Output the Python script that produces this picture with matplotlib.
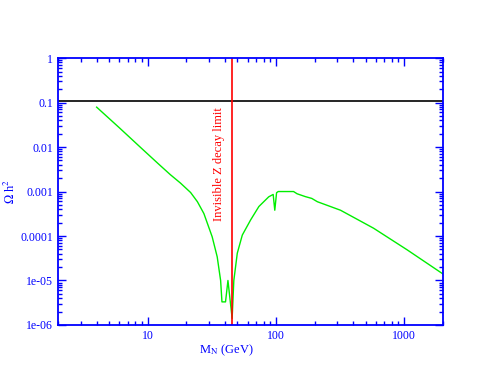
import matplotlib
matplotlib.use("Agg")
import matplotlib.pyplot as plt
from matplotlib.ticker import LogLocator, FixedLocator, NullFormatter

# relic density vs neutrino mass
mass = [4, 6, 8.8, 12, 15, 18, 21.6, 24.4, 27.4, 31.8, 34.8, 37, 37.9, 40.4,
        42.2, 45.5, 46.9, 49.9, 54.6, 63.4, 73.5, 87.7, 95, 97.8, 101, 104,
        137, 146, 169, 190, 210, 318, 575, 1050, 2000]
omega = [0.079, 0.0273, 9.8e-3, 4.3e-3, 2.4e-3, 1.55e-3, 9.5e-4, 5.9e-4,
         3.2e-4, 9.6e-5, 3.4e-5, 1e-5, 3.3e-6, 3.3e-6, 1e-5, 1.4e-6, 1e-5,
         4.1e-5, 1.05e-4, 2.3e-4, 4.6e-4, 7.6e-4, 8.6e-4, 3.8e-4, 9.4e-4,
         1e-3, 1e-3, 8.9e-4, 7.7e-4, 7e-4, 5.9e-4, 3.8e-4, 1.5e-4, 4.9e-5,
         1.4e-5]
wmap = 0.11
z_limit = 45

ylabels = ["1e-06", "1e-05", "0.0001", "0.001", "0.01", "0.1", "1"]
yticks = [1e-6, 1e-5, 1e-4, 1e-3, 1e-2, 1e-1, 1]

blue = "#0000ff"
plt.rcParams["font.family"] = ["Liberation Serif", "DejaVu Serif"]
plt.rcParams["mathtext.fontset"] = "stix"

fig = plt.figure(figsize=(4.98, 3.85), dpi=100)
ax = fig.add_axes([0.1165, 0.156, 0.773, 0.693])

ax.plot(mass, omega, color="#00ee00", lw=1)
ax.axhline(wmap, color="black", lw=1.2)
ax.axvline(z_limit, color="red", lw=1.2)
ax.text(35.7, 4.2e-3, "Invisible Z decay limit", color="red", rotation=90,
        ha="center", va="center", fontsize=9)

ax.set_xscale("log")
ax.set_yscale("log")
ax.set_xlim(2, 2000)
ax.set_ylim(1e-6, 1)

ax.yaxis.set_major_locator(FixedLocator(yticks))
ax.set_yticklabels(ylabels)
ax.yaxis.set_minor_locator(LogLocator(base=10, subs=range(2, 10), numticks=20))
ax.yaxis.set_minor_formatter(NullFormatter())
ax.set_xticks([10, 100, 1000])
ax.set_xticklabels(["10", "100", "1000"])
ax.xaxis.set_minor_locator(LogLocator(base=10, subs=range(2, 10), numticks=20))
ax.xaxis.set_minor_formatter(NullFormatter())

for s in ax.spines.values():
    s.set_color(blue)
    s.set_linewidth(1.3)
ax.tick_params(which="both", direction="in", top=True, right=True,
               colors=blue, labelsize=8.5, width=1)
ax.tick_params(which="major", length=6)
ax.tick_params(which="minor", length=3)

ax.set_xlabel(r"M$_\mathrm{N}$ (GeV)", color=blue, fontsize=9)
ax.set_ylabel(r"$\Omega$ h$^2$", color=blue, fontsize=9)
ax.xaxis.set_label_coords(0.436, -0.067)
ax.yaxis.set_label_coords(-0.104, 0.5)

fig.savefig("out.png", dpi=100)
